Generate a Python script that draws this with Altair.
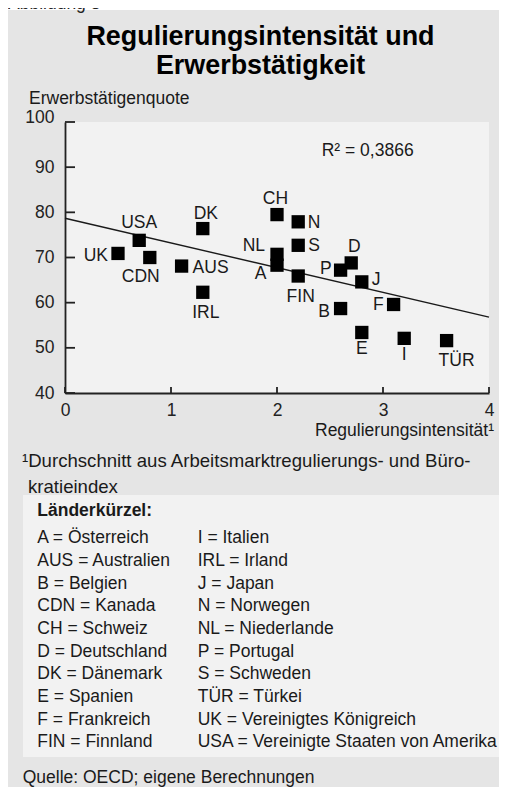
import altair as alt
import pandas as pd

FONT = "Liberation Sans"
INK = "#1a1a1a"
FS = 17.5

# ---- data ----
codes = ["A", "AUS", "B", "CDN", "CH", "D", "DK", "E", "F", "FIN",
         "I", "IRL", "J", "N", "NL", "P", "S", "TÜR", "UK", "USA"]
regulation = [2.0, 1.1, 2.6, 0.8, 2.0, 2.7, 1.3, 2.8, 3.1, 2.2,
              3.2, 1.3, 2.8, 2.2, 2.0, 2.6, 2.2, 3.6, 0.5, 0.7]
employment = [68.3, 68.1, 58.7, 70.0, 79.5, 68.8, 76.4, 53.4, 59.6, 65.9,
              52.1, 62.3, 64.6, 77.9, 70.7, 67.2, 72.7, 51.6, 70.9, 73.8]

fit_x = [0, 4]
fit_y = [78.7, 56.8]

x_ticks = [0, 1, 2, 3, 4]
y_ticks = [40, 50, 60, 70, 80, 90, 100]

title_lines = ["Regulierungsintensität und", "Erwerbstätigkeit"]
y_title = "Erwerbstätigenquote"
x_title = "Regulierungsintensität¹"
r2_text = "R² = 0,3866"
footnote_lines = ["¹Durchschnitt aus Arbeitsmarktregulierungs- und Büro-", "kratieindex"]
legend_title = "Länderkürzel:"
legend_left = ["A = Österreich", "AUS = Australien", "B = Belgien", "CDN = Kanada",
               "CH = Schweiz", "D = Deutschland", "DK = Dänemark", "E = Spanien",
               "F = Frankreich", "FIN = Finnland"]
legend_right = ["I = Italien", "IRL = Irland", "J = Japan", "N = Norwegen",
                "NL = Niederlande", "P = Portugal", "S = Schweden", "TÜR = Türkei",
                "UK = Vereinigtes Königreich", "USA = Vereinigte Staaten von Amerika"]
source_text = "Quelle: OECD; eigene Berechnungen"
figure_label = "Abbildung 3"

# label placement (style): align, dx, dy relative to the square
label_pos = {
    "UK": ("right", -10, 2.5), "USA": ("center", 0, -17), "CDN": ("center", -9, 19),
    "AUS": ("left", 11, 1.5), "DK": ("center", 3, -15), "IRL": ("center", 3, 21),
    "NL": ("right", -12, -8), "A": ("right", -10.5, 9), "CH": ("center", -1.5, -15.5),
    "N": ("left", 9.5, 1), "S": ("left", 10, 1), "FIN": ("center", 2.5, 21),
    "P": ("right", -9, -1), "D": ("center", 3, -15.5), "J": ("left", 10, -2),
    "B": ("right", -10.7, 3.5), "F": ("right", -10, 1), "E": ("center", 0, 17),
    "I": ("center", 0, 16.5), "TÜR": ("center", 10, 20),
}

df = pd.DataFrame({"code": codes, "reg": regulation, "emp": employment})
fit = pd.DataFrame({"reg": fit_x, "emp": fit_y})
xt = pd.DataFrame({"reg": x_ticks})
yt = pd.DataFrame({"emp": y_ticks})
one = pd.DataFrame({"k": [0]})

W, H = 424, 271

xscale = alt.Scale(domain=[0, 4], nice=False, zero=False)
yscale = alt.Scale(domain=[40, 100], nice=False, zero=False)

xaxis = alt.Axis(values=x_ticks, title="", ticks=False, grid=False,
                 labelFont=FONT, labelFontSize=FS, labelColor="#222",
                 labelPadding=8, labelFlush=False,
                 domainColor="#222", domainWidth=1.8)
yaxis = alt.Axis(values=y_ticks, title="", ticks=False, grid=False,
                 labelFont=FONT, labelFontSize=FS, labelColor="#222",
                 labelPadding=11, labelFlush=False,
                 labelOffset={"condition": {"test": "datum.value == 100", "value": -5}, "value": 0},
                 domainColor="#222", domainWidth=1.8)

X = alt.X("reg:Q", scale=xscale, axis=xaxis)
Y = alt.Y("emp:Q", scale=yscale, axis=yaxis)


def txt(text, x, y, size=FS, weight="normal", align="left", baseline="alphabetic", lh=None, color=INK):
    kw = dict(font=FONT, fontSize=size, fontWeight=weight, align=align,
              baseline=baseline, color=color)
    if lh is not None:
        kw["lineHeight"] = lh
    return alt.Chart(one).mark_text(**kw).encode(
        x=alt.value(x), y=alt.value(y), text=alt.value(text))


layers = []

# white strip above the grey frame and the figure label (cut off as in the original)
layers.append(alt.Chart(one).mark_rect(color="white").encode(
    x=alt.value(-57), x2=alt.value(W + 10), y=alt.value(-114), y2=alt.value(-112)))
layers.append(txt(figure_label, -57, -113.5, color="#222"))

# legend box background
layers.append(alt.Chart(one).mark_rect(color="#f2f2f2").encode(
    x=alt.value(-42), x2=alt.value(W + 10), y=alt.value(373), y2=alt.value(635)))

# regression line
layers.append(alt.Chart(fit).mark_line(color=INK, strokeWidth=1.4).encode(x=X, y=Y))

# inward ticks
layers.append(alt.Chart(xt).mark_rule(color="#222", strokeWidth=1.8).encode(
    x=X, y=alt.value(H), y2=alt.value(H - 6)))
layers.append(alt.Chart(yt).mark_rule(color="#222", strokeWidth=1.8).encode(
    y=Y, x=alt.value(0), x2=alt.value(10)))

# squares
layers.append(alt.Chart(df).mark_square(size=177, color="black", opacity=1).encode(x=X, y=Y))

# point labels
for c in codes:
    al, dx, dy = label_pos[c]
    layers.append(alt.Chart(df).transform_filter(alt.datum.code == c).mark_text(
        font=FONT, fontSize=FS, color=INK, align=al, baseline="middle", dx=dx, dy=dy
    ).encode(x=X, y=Y, text="code:N"))

# annotations
layers.append(txt(title_lines, 195.5, -77, size=26.9, weight="bold", align="center", lh=29, color="black"))
layers.append(txt(y_title, -36, -18))
layers.append(txt(r2_text, 256.7, 29, baseline="middle"))
layers.append(txt(x_title, 429, 313.5, align="right"))
layers.append(txt(footnote_lines[0], -43, 344.5, size=18.6))
layers.append(txt(footnote_lines[1], -37, 370.5, size=18.6))
layers.append(txt(legend_title, -27.7, 394, weight="bold"))
layers.append(txt(legend_left, -27.7, 421.3, lh=22.67))
layers.append(txt(legend_right, 132.7, 421.3, lh=22.67))
layers.append(txt(source_text, -42.3, 660.7))

chart = alt.layer(*layers).properties(
    width=W, height=H,
    autosize=alt.AutoSizeParams(type="none"),
    padding={"left": 57, "top": 114, "right": 10, "bottom": 394},
    background="#e5e5e5",
).configure_view(fill="#f2f2f2", strokeWidth=0)

chart.save("out.html", embed_options={"renderer": "svg", "actions": False})
